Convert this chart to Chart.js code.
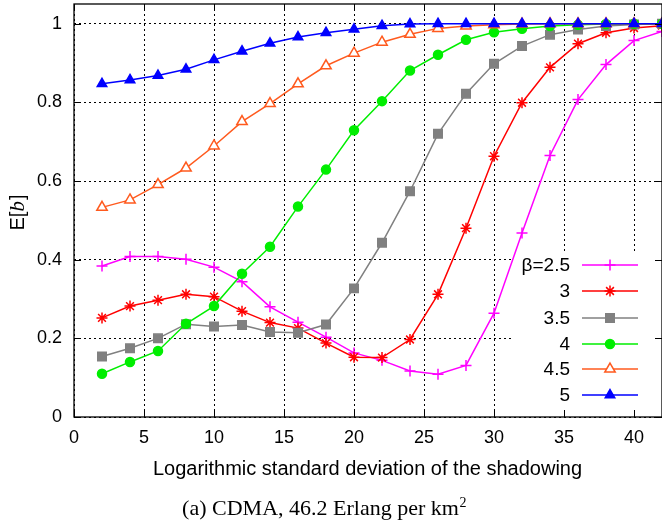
<!DOCTYPE html>
<html>
<head>
<meta charset="utf-8">
<script src="https://cdn.jsdelivr.net/npm/chart.js@4/dist/chart.umd.min.js"></script>
<style>
  html, body { margin: 0; padding: 0; background: #fff; }
  #wrap { width: 662px; height: 523px; }
</style>
</head>
<body>
<div id="wrap"><canvas id="c"></canvas></div>
<script>
// sigma values (x)
const sigma = [2, 4, 6, 8, 10, 12, 14, 16, 18, 20, 22, 24, 26, 28, 30, 32, 34, 36, 38, 40, 42];

// E[b] per beta
const beta25 = [0.384, 0.408, 0.408, 0.401, 0.381, 0.344, 0.280, 0.241, 0.203, 0.163, 0.144, 0.117, 0.109, 0.131, 0.264, 0.468, 0.665, 0.807, 0.896, 0.957, 0.980];
const beta3  = [0.252, 0.282, 0.297, 0.312, 0.306, 0.269, 0.240, 0.226, 0.188, 0.152, 0.151, 0.197, 0.312, 0.480, 0.663, 0.799, 0.889, 0.949, 0.977, 0.989, 0.995];
const beta35 = [0.154, 0.175, 0.200, 0.236, 0.230, 0.234, 0.216, 0.214, 0.235, 0.327, 0.443, 0.574, 0.720, 0.822, 0.898, 0.943, 0.972, 0.985, 0.994, 0.998, 1.0];
const beta4  = [0.110, 0.140, 0.168, 0.237, 0.282, 0.364, 0.433, 0.535, 0.629, 0.729, 0.803, 0.881, 0.921, 0.959, 0.978, 0.987, 0.994, 0.997, 0.999, 1.0, 1.0];
const beta45 = [0.533, 0.552, 0.591, 0.633, 0.689, 0.751, 0.797, 0.847, 0.893, 0.925, 0.953, 0.973, 0.988, 0.994, 0.997, 0.999, 1.0, 1.0, 1.0, 1.0, 1.0];
const beta5  = [0.847, 0.857, 0.868, 0.884, 0.908, 0.930, 0.950, 0.966, 0.977, 0.986, 0.995, 0.999, 1.0, 1.0, 1.0, 1.0, 1.0, 1.0, 1.0, 1.0, 1.0];

const legendLabels = ['β=2.5', '3', '3.5', '4', '4.5', '5'];
const xTicks = [0, 5, 10, 15, 20, 25, 30, 35, 40];
const yTicks = [0, 0.2, 0.4, 0.6, 0.8, 1];

const FONT = '"Liberation Sans", Arial, sans-serif';
const SERIF = '"Liberation Serif", "Times New Roman", serif';

function pts(vals) {
    return vals.map((v, i) => ({ x: sigma[i], y: v }));
}

function series(label, vals, color, style, radius, fill, order) {
    return {
        label: label,
        data: pts(vals),
        borderColor: color,
        backgroundColor: fill,
        borderWidth: 1.5,
        pointStyle: style,
        pointRadius: radius,
        pointHoverRadius: radius,
        pointBorderColor: color,
        pointBackgroundColor: fill,
        pointBorderWidth: 1.5,
        tension: 0,
        clip: 0,
        order: order
    };
}

const datasets = [
    series(legendLabels[0], beta25, '#ff00ff', 'cross', 5.5, '#ff00ff', 5),
    series(legendLabels[1], beta3, '#ff0000', 'star', 5.5, '#ff0000', 4),
    series(legendLabels[2], beta35, '#808080', 'rect', 6, '#808080', 3),
    series(legendLabels[3], beta4, '#00ee00', 'circle', 4.5, '#00ee00', 2),
    series(legendLabels[4], beta45, '#ff5a1e', 'triangle', 6, '#ffffff', 1),
    series(legendLabels[5], beta5, '#0000ff', 'triangle', 5.5, '#0000ff', 0)
];

// Legend box, frame, inward ticks, titles
const decor = {
    id: 'decor',
    beforeDatasetsDraw(chart) {
        const ctx = chart.ctx, a = chart.chartArea;
        ctx.save();
        ctx.fillStyle = '#fff';
        ctx.fillRect(512, 253, a.right - 512, a.bottom - 253);
        ctx.restore();
    },
    afterDraw(chart) {
        const ctx = chart.ctx, a = chart.chartArea;
        const xs = chart.scales.x, ys = chart.scales.y;
        ctx.save();

        // legend entries
        const rows = [265, 291, 318, 344, 369, 395];
        ctx.font = '19px ' + FONT;
        ctx.textAlign = 'right';
        ctx.textBaseline = 'middle';
        datasets.forEach((ds, i) => {
            const y = rows[i];
            ctx.fillStyle = '#000';
            ctx.fillText(ds.label, 570, y + 1);
            ctx.strokeStyle = ds.borderColor;
            ctx.lineWidth = 1.5;
            ctx.beginPath();
            ctx.moveTo(582, y);
            ctx.lineTo(638, y);
            ctx.stroke();
            ctx.fillStyle = ds.pointBackgroundColor;
            Chart.helpers.drawPoint(ctx, {
                pointStyle: ds.pointStyle,
                radius: ds.pointRadius,
                rotation: 0,
                borderWidth: 1.5
            }, 610, y);
        });

        // frame
        ctx.strokeStyle = '#000';
        ctx.lineWidth = 1.3;
        ctx.strokeRect(a.left, a.top, a.right - a.left, a.bottom - a.top);

        // inward tick marks on all four sides
        ctx.lineWidth = 1;
        ctx.beginPath();
        xTicks.forEach(t => {
            const px = Math.round(xs.getPixelForValue(t)) + 0.5;
            ctx.moveTo(px, a.bottom); ctx.lineTo(px, a.bottom - 7);
            ctx.moveTo(px, a.top); ctx.lineTo(px, a.top + 7);
        });
        yTicks.forEach(t => {
            const py = Math.round(ys.getPixelForValue(t)) + 0.5;
            ctx.moveTo(a.left, py); ctx.lineTo(a.left + 7, py);
            ctx.moveTo(a.right, py); ctx.lineTo(a.right - 7, py);
        });
        ctx.stroke();

        // x title
        ctx.fillStyle = '#000';
        ctx.font = '20px ' + FONT;
        ctx.textAlign = 'center';
        ctx.textBaseline = 'alphabetic';
        ctx.fillText('Logarithmic standard deviation of the shadowing', 367.5, 475);

        // y title: E[b] with italic b
        ctx.save();
        ctx.translate(24, 213);
        ctx.rotate(-Math.PI / 2);
        const partA = 'E[', partB = 'b', partC = ']';
        ctx.font = '20px ' + FONT;
        const wA = ctx.measureText(partA).width, wC = ctx.measureText(partC).width;
        ctx.font = 'italic 21px ' + SERIF;
        const wB = ctx.measureText(partB).width;
        let x0 = -(wA + wB + wC) / 2;
        ctx.textAlign = 'left';
        ctx.font = '20px ' + FONT;
        ctx.fillText(partA, x0, 0);
        ctx.font = 'italic 21px ' + SERIF;
        ctx.fillText(partB, x0 + wA, 0);
        ctx.font = '20px ' + FONT;
        ctx.fillText(partC, x0 + wA + wB + 1, 0);
        ctx.restore();

        // caption
        const cap = '(a) CDMA, 46.2 Erlang per km';
        ctx.font = '22px ' + SERIF;
        const wCap = ctx.measureText(cap).width;
        ctx.font = '14px ' + SERIF;
        const wSup = ctx.measureText('2').width;
        const cx = 324 - (wCap + wSup) / 2;
        ctx.textAlign = 'left';
        ctx.textBaseline = 'alphabetic';
        ctx.font = '22px ' + SERIF;
        ctx.fillText(cap, cx, 515);
        ctx.font = '14px ' + SERIF;
        ctx.fillText('2', cx + wCap + 0.5, 507);

        ctx.restore();
    }
};

new Chart(document.getElementById('c'), {
    type: 'line',
    data: { datasets: datasets },
    options: {
        responsive: true,
        maintainAspectRatio: false,
        animation: false,
        events: [],
        layout: { autoPadding: false, padding: { top: 4, right: 0, left: 0, bottom: 40 } },
        plugins: {
            legend: { display: false },
            tooltip: { enabled: false }
        },
        scales: {
            x: {
                type: 'linear',
                min: 0,
                max: 42,
                afterFit(scale) {
                    scale.height = 66;
                    scale.paddingLeft = 0;
                    scale.paddingRight = 0;
                },
                ticks: {
                    stepSize: 5,
                    includeBounds: false,
                    autoSkip: false,
                    maxRotation: 0,
                    padding: 10,
                    color: '#000',
                    font: { family: FONT, size: 18 }
                },
                grid: { color: '#000', lineWidth: 1, drawTicks: false },
                border: { display: false, dash: [2, 3] }
            },
            y: {
                min: 0,
                max: 1.05,
                afterFit(scale) {
                    scale.width = 74;
                    scale.paddingTop = 0;
                    scale.paddingBottom = 0;
                },
                ticks: {
                    stepSize: 0.2,
                    includeBounds: false,
                    padding: 12,
                    color: '#000',
                    font: { family: FONT, size: 18 },
                    callback: v => String(+v.toFixed(1))
                },
                grid: { color: '#000', lineWidth: 1, drawTicks: false },
                border: { display: false, dash: [2, 3] }
            }
        }
    },
    plugins: [decor]
});
</script>
</body>
</html>
